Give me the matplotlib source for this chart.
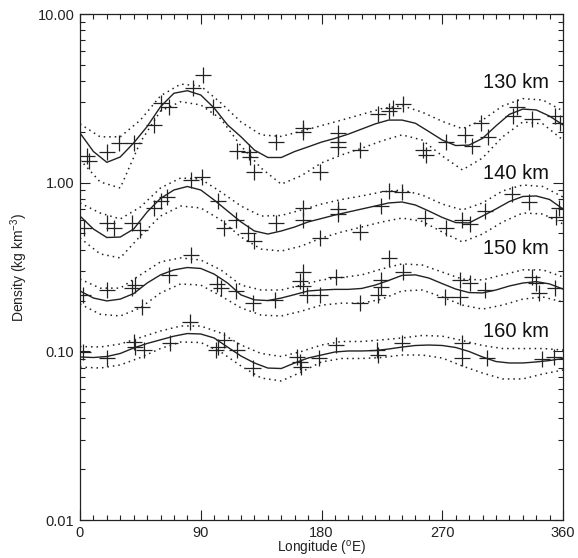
import numpy as np
import matplotlib
matplotlib.use('Agg')
import matplotlib.pyplot as plt
from matplotlib.ticker import MultipleLocator, LogLocator, FixedLocator, FixedFormatter, NullFormatter

plt.rcParams['font.family'] = ['Liberation Sans', 'DejaVu Sans']
plt.rcParams['mathtext.fontset'] = 'custom'
plt.rcParams['mathtext.rm'] = 'Liberation Sans'
plt.rcParams['mathtext.it'] = 'Liberation Sans'

# fitted curves (solid) sampled every 10 deg, envelopes (dotted) every 15 deg
lon_fit = np.arange(0, 361, 10)
lon_env = np.arange(0, 361, 15)

fit130 = [1.97, 1.53, 1.32, 1.42, 1.72, 2.15, 2.82, 3.39, 3.51, 3.31,
          2.77, 2.20, 1.87, 1.56, 1.41, 1.41, 1.53, 1.63, 1.74, 1.83,
          1.94, 2.08, 2.23, 2.35, 2.35, 2.25, 2.01, 1.79, 1.66, 1.67,
          1.83, 2.17, 2.54, 2.73, 2.70, 2.48, 2.20]
up130 = [2.23, 1.87, 1.87, 2.35, 3.27, 3.84, 3.74, 2.97, 2.29, 1.92, 1.88, 2.02, 2.18,
         2.35, 2.54, 2.75, 2.86, 2.62, 2.31, 2.09, 2.35, 2.85, 3.15, 3.09, 2.66]
lo130 = [1.37, 1.01, 0.93, 1.74, 2.66, 3.02, 2.89, 2.39, 1.65, 1.22, 0.98, 1.10, 1.31,
         1.46, 1.60, 1.77, 1.92, 1.79, 1.44, 1.19, 1.40, 1.87, 2.29, 2.23, 1.79]

fit140 = [0.634, 0.531, 0.473, 0.476, 0.531, 0.670, 0.806, 0.905, 0.949, 0.905,
          0.789, 0.679, 0.585, 0.517, 0.496, 0.517, 0.546, 0.585, 0.613, 0.643,
          0.670, 0.698, 0.727, 0.758, 0.768, 0.737, 0.679, 0.622, 0.580, 0.577,
          0.634, 0.698, 0.773, 0.828, 0.834, 0.795, 0.698]
up140 = [0.758, 0.661, 0.609, 0.717, 0.930, 1.066, 1.051, 0.881, 0.727, 0.634, 0.639, 0.689, 0.747,
         0.795, 0.834, 0.881, 0.905, 0.845, 0.747, 0.689, 0.758, 0.893, 0.969, 0.949, 0.822]
lo140 = [0.470, 0.378, 0.358, 0.483, 0.634, 0.727, 0.708, 0.601, 0.476, 0.404, 0.393, 0.421, 0.470,
         0.510, 0.546, 0.585, 0.617, 0.590, 0.510, 0.445, 0.496, 0.585, 0.661, 0.652, 0.569]

fit150 = [0.228, 0.207, 0.199, 0.204, 0.220, 0.254, 0.284, 0.304, 0.314, 0.310,
          0.287, 0.254, 0.216, 0.202, 0.200, 0.207, 0.217, 0.228, 0.231, 0.233,
          0.233, 0.236, 0.247, 0.263, 0.282, 0.284, 0.272, 0.252, 0.234, 0.223,
          0.222, 0.231, 0.244, 0.254, 0.259, 0.251, 0.234]
up150 = [0.268, 0.237, 0.237, 0.284, 0.339, 0.358, 0.348, 0.304, 0.247, 0.231, 0.231, 0.247, 0.265,
         0.274, 0.284, 0.308, 0.330, 0.325, 0.295, 0.268, 0.265, 0.284, 0.304, 0.304, 0.276]
lo150 = [0.191, 0.166, 0.162, 0.181, 0.222, 0.251, 0.247, 0.213, 0.181, 0.164, 0.162, 0.173, 0.188,
         0.193, 0.193, 0.204, 0.228, 0.231, 0.210, 0.188, 0.178, 0.188, 0.204, 0.210, 0.196]

fit160 = [0.0926, 0.0919, 0.0932, 0.0971, 0.1047, 0.1113, 0.117, 0.123, 0.1275, 0.1267,
          0.120, 0.106, 0.0938, 0.0853, 0.0796, 0.0791, 0.0853, 0.0913, 0.0951, 0.0991,
          0.1005, 0.1005, 0.1011, 0.1032, 0.106, 0.1083, 0.109, 0.1083, 0.1054, 0.0998,
          0.0926, 0.087, 0.0853, 0.0853, 0.0865, 0.0882, 0.0907]
up160 = [0.1068, 0.1061, 0.1105, 0.1208, 0.132, 0.1413, 0.1413, 0.1284, 0.109, 0.0971, 0.0932, 0.0998, 0.109,
         0.1144, 0.1144, 0.117, 0.120, 0.1242, 0.123, 0.1159, 0.1083, 0.1039, 0.1039, 0.1039, 0.1018]
lo160 = [0.0807, 0.0796, 0.083, 0.0919, 0.1039, 0.1136, 0.1128, 0.0991, 0.0818, 0.0695, 0.0667, 0.0754, 0.0865,
         0.0907, 0.0907, 0.0919, 0.0951, 0.0951, 0.0913, 0.0818, 0.0744, 0.0686, 0.0686, 0.0734, 0.0775]

# measured densities (crosses)
pts130_lon = [5, 7, 20, 29, 40, 55, 60, 66, 84, 92, 99, 117, 126, 127, 130, 146, 166, 166, 179, 192,
              192, 192, 209, 222, 230, 233, 241, 256, 258, 273, 287, 292, 299, 304, 323, 326, 337, 354, 358]
pts130 = [1.44, 1.34, 1.53, 1.71, 1.71, 2.20, 2.95, 2.82, 3.64, 4.32, 2.82, 1.54, 1.51, 1.41, 1.16, 1.75,
          2.10, 2.01, 1.15, 1.96, 1.75, 1.63, 1.56, 2.55, 2.66, 2.77, 2.93, 1.56, 1.46, 1.75, 1.92, 1.65,
          2.25, 1.87, 2.48, 2.82, 2.38, 2.47, 2.27]

pts140_lon = [3, 20, 25, 39, 45, 55, 60, 65, 83, 91, 103, 107, 116, 125, 130, 146, 166, 166, 179, 192,
              192, 209, 224, 230, 240, 257, 273, 285, 291, 302, 322, 335, 355, 357]
pts140 = [0.542, 0.580, 0.542, 0.574, 0.524, 0.712, 0.778, 0.826, 1.04, 1.085, 0.778, 0.542, 0.601,
          0.501, 0.451, 0.580, 0.705, 0.601, 0.468, 0.698, 0.652, 0.507, 0.727, 0.893, 0.884, 0.617,
          0.542, 0.601, 0.569, 0.679, 0.857, 0.771, 0.622, 0.705]

pts150_lon = [2, 20, 39, 41, 46, 66, 83, 102, 105, 116, 129, 145, 164, 166, 166, 169, 179, 191, 209, 222,
              224, 224, 230, 241, 272, 283, 283, 291, 302, 337, 340, 342, 354]
pts150 = [0.216, 0.231, 0.236, 0.246, 0.182, 0.284, 0.373, 0.251, 0.236, 0.228, 0.193, 0.202, 0.261,
          0.295, 0.244, 0.216, 0.216, 0.276, 0.193, 0.216, 0.265, 0.241, 0.356, 0.295, 0.211, 0.265,
          0.210, 0.253, 0.231, 0.277, 0.254, 0.221, 0.236]

pts160_lon = [2, 20, 40, 41, 48, 67, 82, 101, 103, 107, 117, 129, 162, 164, 165, 178, 191, 221, 222, 240,
              285, 285, 303, 344, 353]
pts160 = [0.0995, 0.091, 0.114, 0.1065, 0.1018, 0.1116, 0.150, 0.1018, 0.1065, 0.117, 0.1018, 0.0793,
          0.093, 0.0868, 0.0811, 0.091, 0.109, 0.1018, 0.0951, 0.1116, 0.1116, 0.091, 0.091, 0.0897, 0.0922]

labels = ['130 km', '140 km', '150 km', '160 km']
label_y = [3.95, 1.14, 0.408, 0.1307]

groups = [
    (fit130, up130, lo130, pts130_lon, pts130),
    (fit140, up140, lo140, pts140_lon, pts140),
    (fit150, up150, lo150, pts150_lon, pts150),
    (fit160, up160, lo160, pts160_lon, pts160),
]

fig = plt.figure(figsize=(5.78, 5.58), dpi=100)
ax = fig.add_axes([80 / 578, 1 - 520 / 558, 483 / 578, 506 / 558])

col = '#222222'
for fit, up, lo, plon, pval in groups:
    ax.plot(lon_fit, fit, color=col, lw=1.0)
    ax.plot(lon_env, up, color=col, lw=1.1, ls=(0, (1, 2.6)))
    ax.plot(lon_env, lo, color=col, lw=1.1, ls=(0, (1, 2.6)))
    ax.plot(plon, pval, ls='none', marker='+', ms=11, mew=0.9, color=col)

for lab, y in zip(labels, label_y):
    ax.text(349.5, y, lab, ha='right', va='center', fontsize=14.5, color='#111111')

ax.set_yscale('log')
ax.set_xlim(0, 360)
ax.set_ylim(0.01, 10)

ax.xaxis.set_major_locator(MultipleLocator(90))
ax.xaxis.set_minor_locator(MultipleLocator(10))
ax.yaxis.set_major_locator(FixedLocator([0.01, 0.1, 1, 10]))
ax.yaxis.set_major_formatter(FixedFormatter(['0.01', '0.10', '1.00', '10.00']))
ax.yaxis.set_minor_locator(LogLocator(base=10, subs=np.arange(2, 10)))
ax.yaxis.set_minor_formatter(NullFormatter())

ax.tick_params(which='both', direction='in', top=True, right=True, labelsize=10.5, colors=col)
ax.tick_params(which='major', length=7, width=0.8, pad=4)
ax.tick_params(which='minor', length=3.5, width=0.8)
for s in ax.spines.values():
    s.set_linewidth(0.9)
    s.set_color(col)

ax.set_xlabel('Longitude ($^{\\rm o}$E)', fontsize=9.8, color=col)
ax.xaxis.set_label_coords(0.5, -0.038)
ax.set_ylabel('Density (kg km$^{-3}$)', fontsize=10, color=col)
ax.yaxis.set_label_coords(-0.103, 0.5)

fig.savefig('out.png', dpi=100)
